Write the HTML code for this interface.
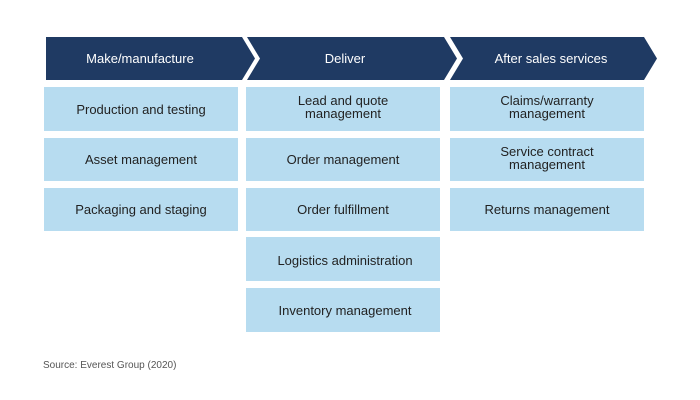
<!DOCTYPE html>
<html><head><style>
body{margin:0;background:#fff;}
svg{display:block;font-family:"Liberation Sans",sans-serif;}
</style></head><body>
<svg width="700" height="400" viewBox="0 0 700 400">
<g fill="#1f3a63">
<polygon points="46,37 242,37 255,58.5 242,80 46,80"/>
<polygon points="247,37 444,37 457,58.5 444,80 247,80 260,58.5"/>
<polygon points="450,37 644,37 657,58.5 644,80 450,80 463,58.5"/>
</g>
<g fill="#fff" font-size="13" text-anchor="middle">
<text x="140" y="63">Make/manufacture</text>
<text x="345" y="63">Deliver</text>
<text x="551" y="63">After sales services</text>
</g>
<g fill="#b7dcf0">
<rect x="44" y="87" width="194" height="44"/>
<rect x="44" y="138" width="194" height="43"/>
<rect x="44" y="188" width="194" height="43"/>
<rect x="246" y="87" width="194" height="44"/>
<rect x="246" y="138" width="194" height="43"/>
<rect x="246" y="188" width="194" height="43"/>
<rect x="246" y="237" width="194" height="44"/>
<rect x="246" y="288" width="194" height="44"/>
<rect x="450" y="87" width="194" height="44"/>
<rect x="450" y="138" width="194" height="43"/>
<rect x="450" y="188" width="194" height="43"/>
</g>
<g fill="#222" font-size="13" text-anchor="middle">
<text x="141" y="114">Production and testing</text>
<text x="141" y="164">Asset management</text>
<text x="141" y="214">Packaging and staging</text>
<text x="343" y="105">Lead and quote</text>
<text x="343" y="118">management</text>
<text x="343" y="164">Order management</text>
<text x="343" y="214">Order fulfillment</text>
<text x="345" y="265">Logistics administration</text>
<text x="345" y="315">Inventory management</text>
<text x="547" y="105">Claims/warranty</text>
<text x="547" y="118">management</text>
<text x="547" y="156">Service contract</text>
<text x="547" y="169">management</text>
<text x="547" y="214">Returns management</text>
</g>
<text x="43" y="368" font-size="10" fill="#555">Source: Everest Group (2020)</text>
</svg>
</body></html>
